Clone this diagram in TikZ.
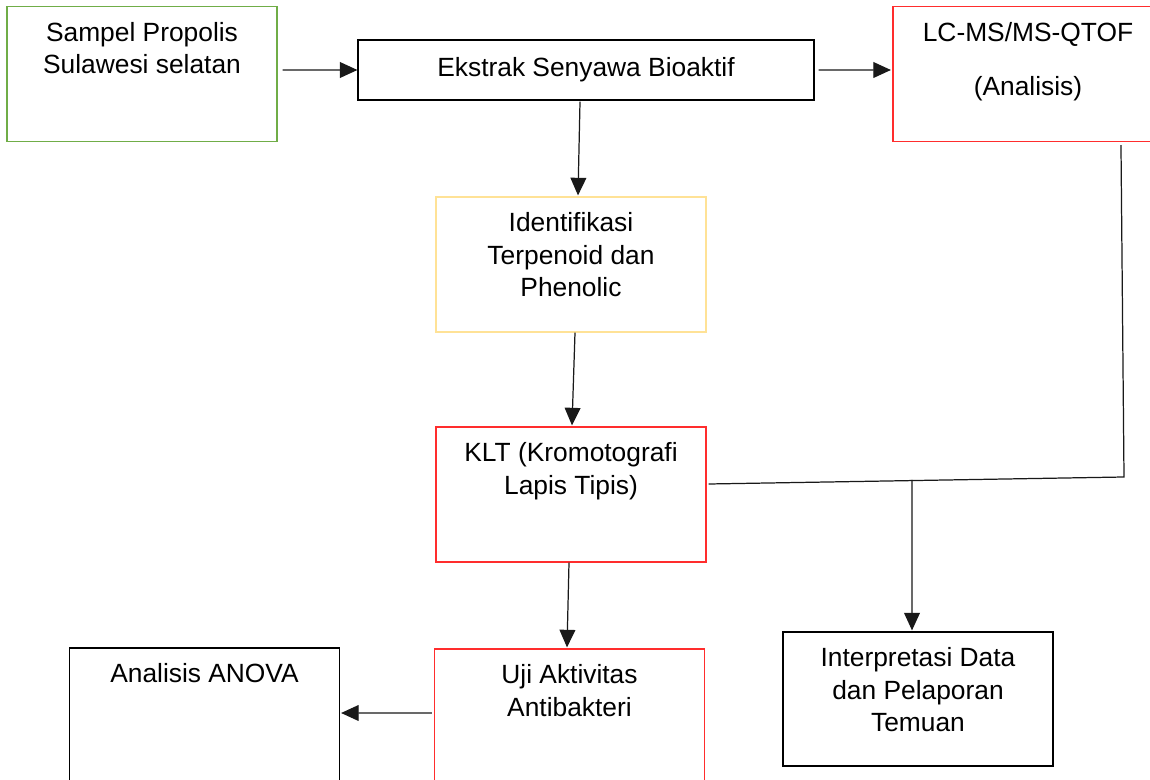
\documentclass[tikz,border=0pt]{standalone}
\usepackage{fontspec}
\setmainfont{Liberation Sans}
\usetikzlibrary{arrows.meta,positioning}
\definecolor{hijau}{RGB}{112,173,71}
\definecolor{kuning}{RGB}{255,226,150}
\definecolor{merah}{RGB}{255,45,45}

\begin{document}
\begin{tikzpicture}[x=0.02cm, y=-0.02cm,
    kotak/.style={draw, rectangle, line width=0.7pt, inner sep=0pt, minimum width=5.4cm, minimum height=2.7cm},
    teks/.style={align=center, inner sep=0pt, font=\fontsize{15}{18.5}\selectfont},
    garis/.style={line width=0.7pt, draw=black!90},
    panah/.style={garis, -{Triangle[length=10pt,width=9pt]}}]
\useasboundingbox (0,0) rectangle (1150,780);

\node[kotak, draw=hijau] (sampel) at (142,74) {};
\node[teks, below=0.32cm of sampel.north] (sampel-t) {Sampel Propolis\\Sulawesi selatan};

\node[kotak, minimum width=9.12cm, minimum height=1.2cm] (ekstrak) at (586,70) {};
\node[teks] (ekstrak-t) at (ekstrak) {Ekstrak Senyawa Bioaktif};

\node[kotak, draw=merah] (lcms) at (1028,74) {};
\node[teks, below=0.32cm of lcms.north] (lcms-t) {LC-MS/MS-QTOF\\[12.5pt](Analisis)};

\node[kotak, draw=kuning] (identifikasi) at (571,264.5) {};
\node[teks, below=0.32cm of identifikasi.north] (identifikasi-t) {Identifikasi\\Terpenoid dan\\Phenolic};

\node[kotak, draw=merah] (klt) at (571,494.5) {};
\node[teks, below=0.32cm of klt.north] (klt-t) {KLT (Kromotografi\\Lapis Tipis)};

\node[kotak, draw=merah, minimum height=2.8cm] (uji) at (569.5,719) {};
\node[teks, below=0.32cm of uji.north] (uji-t) {Uji Aktivitas\\Antibakteri};

\node[kotak, minimum height=2.8cm] (anova) at (204.5,718) {};
\node[teks, below=0.32cm of anova.north] (anova-t) {Analisis ANOVA};

\node[kotak, minimum height=2.68cm] (interpretasi) at (918,699) {};
\node[teks, below=0.32cm of interpretasi.north] (interpretasi-t) {Interpretasi Data\\dan Pelaporan\\Temuan};

\coordinate (kanan) at (1124,477);
\coordinate (cabang) at (912,480);

\draw[panah] ([xshift=0.1cm, yshift=0.08cm]sampel.east) -- (ekstrak.west);
\draw[panah] ([xshift=0.08cm]ekstrak.east) -- ([xshift=-0.03cm, yshift=0.08cm]lcms.west);
\draw[panah] ([xshift=-0.12cm, yshift=-0.02cm]ekstrak.south) -- ([xshift=0.14cm, yshift=0.02cm]identifikasi.north);
\draw[panah] ([xshift=0.08cm]identifikasi.south) -- ([xshift=0.02cm, yshift=0.02cm]klt.north);
\draw[panah] ([xshift=-0.04cm]klt.south) -- ([xshift=-0.05cm, yshift=0.02cm]uji.north);
\draw[panah] ([xshift=-0.04cm, yshift=0.12cm]uji.west) -- ([xshift=0.02cm, yshift=0.1cm]anova.east);
\draw[garis] ([xshift=0.04cm, yshift=0.21cm]klt.east) -- (kanan) -- ([xshift=1.86cm, yshift=-0.06cm]lcms.south);
\draw[panah] (cabang) -- ([xshift=-0.12cm, yshift=0.02cm]interpretasi.north);
\end{tikzpicture}
\end{document}
